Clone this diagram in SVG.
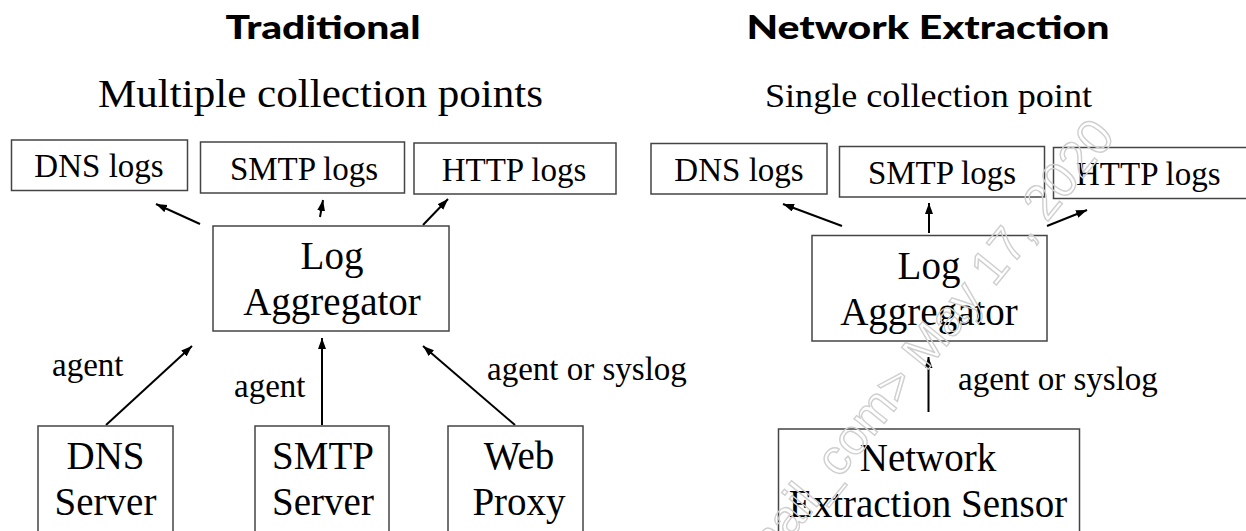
<svg xmlns="http://www.w3.org/2000/svg" width="1246" height="531" viewBox="0 0 1246 531">
  <defs>
    <marker id="arrow" markerUnits="userSpaceOnUse" markerWidth="12" markerHeight="10" refX="11" refY="4" orient="auto">
      <path d="M0,0 L11,4 L0,8 Z" fill="#000"/>
    </marker>
    <style>
      .box { fill: #fff; stroke: #444; stroke-width: 1.5; }
      .lbl { font-family: "Liberation Serif", "Times New Roman", serif; fill: #000; }
      .log { font-size: 33px; }
      .big { font-size: 39px; }
      .edge { font-size: 33px; }
      .title { font-family: Lato, "Noto Sans", sans-serif; font-weight: 900; font-size: 33px; fill: #000; }
      .conn { stroke: #000; stroke-width: 2; fill: none; marker-end: url(#arrow); }
      .mark { font-family: "Liberation Sans", Arial, sans-serif; font-size: 50px; fill: none; stroke: #cfcfcf; stroke-width: 1.4; }
    </style>
  </defs>

  <rect width="1246" height="531" fill="#fff"/>

  <!-- headings -->
  <g id="headings">
    <text class="title" x="323" y="39" text-anchor="middle" textLength="195" lengthAdjust="spacingAndGlyphs">Traditional</text>
    <text class="title" x="928" y="39" text-anchor="middle" textLength="363" lengthAdjust="spacingAndGlyphs">Network Extraction</text>
    <text class="lbl" x="98" y="107" font-size="40" textLength="445" lengthAdjust="spacingAndGlyphs">Multiple collection points</text>
    <text class="lbl" x="765" y="107" font-size="34" textLength="327" lengthAdjust="spacingAndGlyphs">Single collection point</text>
  </g>

  <!-- connectors -->
  <g id="connectors">
    <line class="conn" x1="200" y1="224" x2="156" y2="204"/>
    <line class="conn" x1="320" y1="217" x2="323" y2="200"/>
    <line class="conn" x1="423" y1="225" x2="448" y2="199"/>
    <line class="conn" x1="106" y1="425" x2="192" y2="346"/>
    <line class="conn" x1="322" y1="425" x2="322" y2="338"/>
    <line class="conn" x1="515" y1="425" x2="423" y2="346"/>
    <line class="conn" x1="842" y1="226" x2="783" y2="204"/>
    <line class="conn" x1="929" y1="233" x2="929" y2="203"/>
    <line class="conn" x1="1047" y1="226" x2="1087" y2="210"/>
    <line class="conn" x1="928.5" y1="412" x2="928.5" y2="357"/>
    <text class="lbl edge" x="52" y="376">agent</text>
    <text class="lbl edge" x="234" y="397">agent</text>
    <text class="lbl edge" x="487" y="380">agent or syslog</text>
    <text class="lbl edge" x="958" y="390">agent or syslog</text>
  </g>

  <!-- traditional layout -->
  <g id="trad-dns-logs">
    <rect class="box" x="11.5" y="140" width="176" height="50.5"/>
    <text class="lbl log" x="99" y="177" text-anchor="middle">DNS logs</text>
  </g>
  <g id="trad-smtp-logs">
    <rect class="box" x="200.5" y="142" width="204" height="51"/>
    <text class="lbl log" x="304" y="180" text-anchor="middle">SMTP logs</text>
  </g>
  <g id="trad-http-logs">
    <rect class="box" x="414" y="143" width="202" height="51"/>
    <text class="lbl log" x="514" y="181" text-anchor="middle">HTTP logs</text>
  </g>
  <g id="trad-aggregator">
    <rect class="box" x="213" y="226" width="236" height="105"/>
    <text class="lbl big" x="332" y="269" text-anchor="middle">Log</text>
    <text class="lbl big" x="332" y="315" text-anchor="middle">Aggregator</text>
  </g>
  <g id="dns-server">
    <rect class="box" x="38" y="426" width="135" height="112"/>
    <text class="lbl big" x="105.5" y="469" text-anchor="middle">DNS</text>
    <text class="lbl big" x="105.5" y="515" text-anchor="middle">Server</text>
  </g>
  <g id="smtp-server">
    <rect class="box" x="255" y="426" width="134" height="112"/>
    <text class="lbl big" x="323" y="469" text-anchor="middle">SMTP</text>
    <text class="lbl big" x="323" y="515" text-anchor="middle">Server</text>
  </g>
  <g id="web-proxy">
    <rect class="box" x="448" y="426" width="135" height="112"/>
    <text class="lbl big" x="519" y="469" text-anchor="middle">Web</text>
    <text class="lbl big" x="519" y="515" text-anchor="middle">Proxy</text>
  </g>

  <!-- network extraction layout -->
  <g id="net-dns-logs">
    <rect class="box" x="651" y="143.5" width="176" height="50.5"/>
    <text class="lbl log" x="739" y="181" text-anchor="middle">DNS logs</text>
  </g>
  <g id="net-smtp-logs">
    <rect class="box" x="839.5" y="146.5" width="205" height="50.5"/>
    <text class="lbl log" x="942" y="184" text-anchor="middle">SMTP logs</text>
  </g>
  <g id="net-http-logs">
    <rect class="box" x="1053.5" y="147.5" width="210" height="51"/>
    <text class="lbl log" x="1076" y="185">HTTP logs</text>
  </g>
  <g id="net-aggregator">
    <rect class="box" x="812" y="235.5" width="235" height="105.5"/>
    <text class="lbl big" x="929" y="279" text-anchor="middle">Log</text>
    <text class="lbl big" x="929" y="325" text-anchor="middle">Aggregator</text>
  </g>
  <g id="net-sensor">
    <rect class="box" x="778.5" y="429" width="301" height="112"/>
    <text class="lbl big" x="928" y="471" text-anchor="middle">Network</text>
    <text class="lbl big" x="928" y="517" text-anchor="middle">Extraction Sensor</text>
  </g>

  <!-- faint date stamp laid diagonally over the right half -->
  <text class="mark" x="764" y="572" transform="rotate(-51 764 572)">mail_com&gt; May 17, 2020</text>
</svg>
